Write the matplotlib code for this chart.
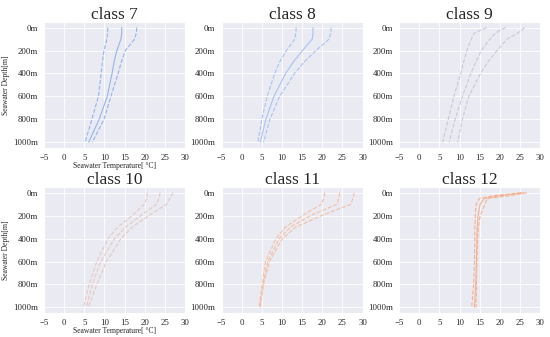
import matplotlib
matplotlib.use("Agg")
import matplotlib.pyplot as plt
import seaborn as sns

CLASSES = ["class 7", "class 8", "class 9", "class 10", "class 11", "class 12"]
DEPTHS = [0, 25, 50, 100, 200, 300, 400, 600, 800, 1000]

# temperature profiles per class: (low, mean, high)
C7_LOW = [10.8, 10.8, 10.8, 10.6, 9.9, 9.5, 9.2, 8.5, 6.9, 5.2]
C7_MID = [14.3, 14.3, 14.3, 14.1, 13.1, 12.4, 11.9, 10.7, 8.7, 6.1]
C7_HIGH = [18.0, 18.0, 17.9, 17.5, 15.2, 14.2, 13.4, 11.6, 9.9, 7.0]

C8_LOW = [13.5, 13.5, 13.4, 13.2, 11.1, 9.4, 8.2, 6.3, 5.0, 4.0]
C8_MID = [17.7, 17.7, 17.7, 17.5, 15.1, 12.8, 10.9, 8.0, 6.0, 4.6]
C8_HIGH = [22.2, 22.2, 22.1, 21.7, 18.4, 15.5, 13.1, 9.4, 7.0, 5.4]

C9_LOW = [16.7, 15.0, 13.6, 12.9, 11.8, 11.0, 10.3, 8.6, 7.2, 5.8]
C9_MID = [21.4, 20.0, 18.9, 17.5, 15.4, 14.0, 12.8, 10.7, 8.9, 7.4]
C9_HIGH = [26.1, 25.3, 24.3, 21.8, 19.3, 17.0, 15.2, 12.3, 10.7, 9.5]

C10_LOW = [20.6, 20.6, 20.5, 19.9, 16.9, 13.3, 10.9, 8.1, 6.2, 4.8]
C10_MID = [23.8, 23.7, 23.5, 23.0, 19.0, 15.3, 12.5, 9.1, 7.0, 5.5]
C10_HIGH = [27.0, 26.6, 26.2, 25.4, 21.0, 16.9, 14.1, 10.5, 8.1, 6.0]

C11_LOW = [20.6, 20.5, 20.4, 19.8, 15.0, 10.9, 8.5, 5.9, 5.1, 4.3]
C11_MID = [24.3, 24.2, 24.1, 23.7, 17.0, 12.1, 9.3, 6.5, 5.3, 4.5]
C11_HIGH = [27.9, 27.8, 27.6, 27.1, 19.8, 13.4, 10.1, 6.9, 5.4, 4.6]

C12_LOW = [25.4, 18.5, 14.9, 14.1, 13.9, 13.8, 13.8, 13.7, 13.5, 13.0]
C12_MID = [25.9, 20.2, 16.1, 15.1, 14.6, 14.4, 14.3, 14.2, 14.0, 13.7]
C12_HIGH = [26.7, 22.6, 16.9, 16.3, 15.1, 14.7, 14.5, 14.3, 14.2, 14.1]

PROFILES = [
    (C7_LOW, C7_MID, C7_HIGH),
    (C8_LOW, C8_MID, C8_HIGH),
    (C9_LOW, C9_MID, C9_HIGH),
    (C10_LOW, C10_MID, C10_HIGH),
    (C11_LOW, C11_MID, C11_HIGH),
    (C12_LOW, C12_MID, C12_HIGH),
]
COLORS = ["#92b4ee", "#a9c2f2", "#c9c9d9", "#e6c9c2", "#f4bfa2", "#f5b292"]
MID_STYLES = ["-", "-", "--", "--", "--", "-"]

X_TICKS = [-5, 0, 5, 10, 15, 20, 25, 30]
Y_TICKS = [0, 200, 400, 600, 800, 1000]
Y_LABELS = ["0m", "200m", "400m", "600m", "800m", "1000m"]

sns.set_style("darkgrid")
plt.rcParams["font.family"] = ["Liberation Serif", "DejaVu Serif"]
plt.rcParams["grid.linewidth"] = 0.6

fig, axes = plt.subplots(2, 3, figsize=(5.5, 3.37), dpi=100)
fig.subplots_adjust(left=0.08, right=0.982, bottom=0.071, top=0.935,
                    wspace=0.26, hspace=0.31)

for i, ax in enumerate(axes.flat):
    low, mid, high = PROFILES[i]
    col = COLORS[i]
    ax.plot(low, DEPTHS, color=col, ls="--", lw=0.8)
    ax.plot(mid, DEPTHS, color=col, ls=MID_STYLES[i], lw=0.8)
    ax.plot(high, DEPTHS, color=col, ls="--", lw=0.8)

    ax.set_xlim(-5, 30)
    ax.set_ylim(1050, -50)
    ax.set_xticks(X_TICKS)
    ax.set_yticks(Y_TICKS)
    ax.set_yticklabels(Y_LABELS)
    ax.tick_params(labelsize=6.3, pad=1)
    ax.set_title(CLASSES[i], fontsize=12.5, pad=2)

    if i % 3 == 0:
        ax.set_ylabel("Seawater Depth[m]", fontsize=5.5, labelpad=2)
        ax.set_xlabel("Seawater Temperature[ °C]", fontsize=5.5, labelpad=0)

fig.savefig("out.png", dpi=100)
